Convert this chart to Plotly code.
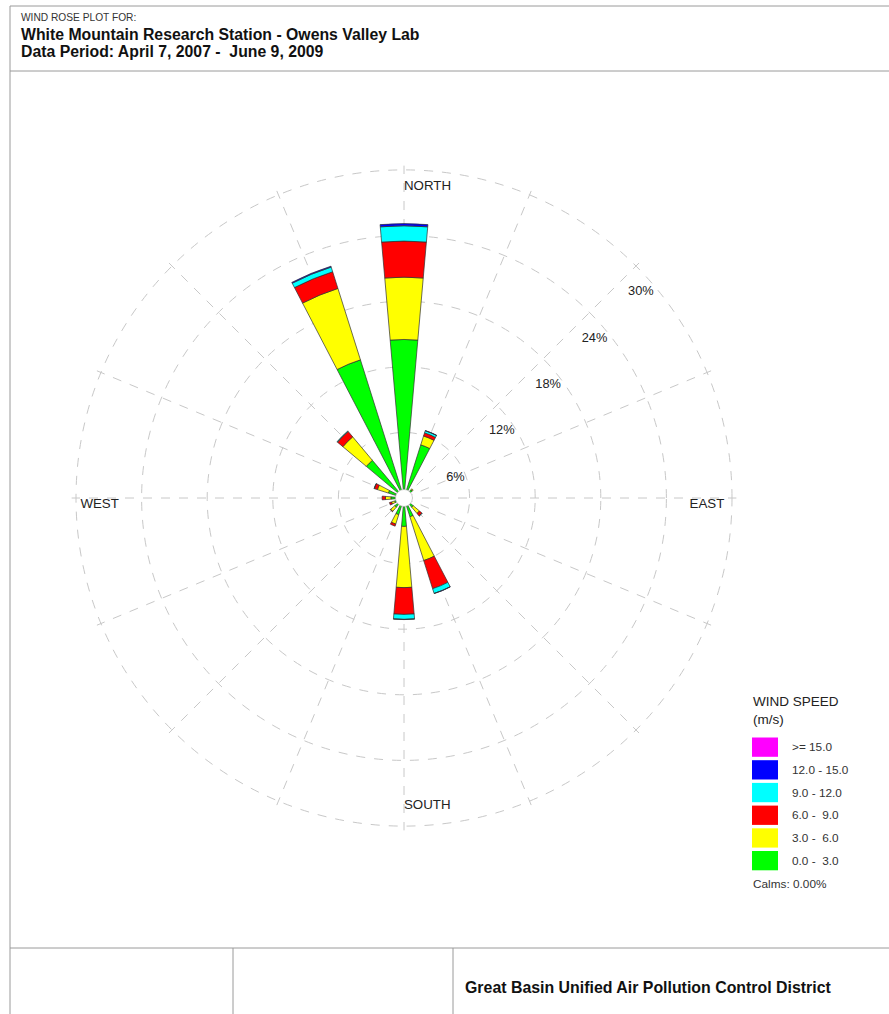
import math
import plotly.graph_objects as go

W, H = 889, 1014

# ---------------- data ----------------
directions = ["N", "NNE", "NE", "ENE", "E", "ESE", "SE", "SSE",
              "S", "SSW", "SW", "WSW", "W", "WNW", "NW", "NNW"]
dir_angles = [0, 22.5, 45, 67.5, 90, 112.5, 135, 157.5,
              180, 202.5, 225, 247.5, 270, 292.5, 315, 337.5]

speed_labels = ["0.0 -\u00a0 3.0", "3.0 -\u00a0 6.0", "6.0 -\u00a0 9.0",
                "9.0 - 12.0", "12.0 - 15.0", ">= 15.0"]
speed_colors = ["#00FF00", "#FFFF00", "#FF0000", "#00FFFF", "#0000FF", "#FF00FF"]

# percent of time, per direction (N, NNE, ... NNW)
freq_0_3   = [14.5, 5.1, 1.0, 0.5, 0.4, 0.5, 1.1, 1.8, 2.6, 1.6, 1.1, 0.9, 1.2, 1.5, 4.5, 13.25]
freq_3_6   = [5.7, 0.85, 0.1, 0.05, 0.05, 0.1, 0.75, 4.2, 5.6, 0.9, 0.5, 0.3, 0.5, 1.05, 2.8, 6.85]
freq_6_9   = [3.3, 0.3, 0.0, 0.0, 0.0, 0.0, 0.3, 2.7, 2.45, 0.2, 0.05, 0.2, 0.3, 0.3, 0.65, 1.6]
freq_9_12  = [1.4, 0.2, 0.0, 0.0, 0.0, 0.0, 0.02, 0.45, 0.45, 0.0, 0.0, 0.0, 0.0, 0.02, 0.05, 0.45]
freq_12_15 = [0.2, 0.02, 0.0, 0.0, 0.0, 0.0, 0.0, 0.02, 0.02, 0.0, 0.0, 0.0, 0.0, 0.0, 0.0, 0.08]
freq_15up  = [0.0] * 16
series = [freq_0_3, freq_3_6, freq_6_9, freq_9_12, freq_12_15, freq_15up]

ring_values = [6, 12, 18, 24, 30]
ring_labels = ["6%", "12%", "18%", "24%", "30%"]

compass_labels = ["NORTH", "EAST", "SOUTH", "WEST"]
compass_angles = [0, 90, 180, 270]

title_small = "WIND ROSE PLOT FOR:"
title_line1 = "White Mountain Research Station - Owens Valley Lab"
title_line2 = "Data Period: April 7, 2007 -\u00a0 June 9, 2009"
legend_title = ["WIND SPEED", "(m/s)"]
calms_text = "Calms: 0.00%"
footer_text = "Great Basin Unified Air Pollution Control District"

# ---------------- layout geometry ----------------
CX, CY = 404, 498          # rose centre (px)
R30 = 328                  # radius of the 30 % ring (px)
RMAX = 30.4
R_TOT = R30 * RMAX / 30.0
PXU = R30 / 30.0           # px per percent

def px(x):
    return x / W

def py(y):
    return 1 - y / H

FONT = "Liberation Sans, Arial, sans-serif"
GRID = "#c8c8c8"

fig = go.Figure()

for vals, lab, col in zip(series, speed_labels, speed_colors):
    fig.add_trace(go.Barpolar(
        r=vals, theta=dir_angles, width=[10] * len(dir_angles),
        name=lab, marker=dict(color=col, line=dict(color="#303030", width=0.7)),
        showlegend=False, hoverinfo="skip"))

# centre white circle
fig.add_trace(go.Scatterpolar(r=[0], theta=[0], mode="markers",
                              marker=dict(color="white", size=17,
                                          line=dict(color="#b0b0b0", width=0.6)),
                              showlegend=False, hoverinfo="skip"))

# ring labels: placed just below where each ring crosses the 45 degree line
lab_r, lab_t = [], []
for v in ring_values:
    x = v * PXU * math.sin(math.radians(45)) + 5
    y = v * PXU * math.cos(math.radians(45)) - 26
    lab_r.append(math.hypot(x, y) / PXU)
    lab_t.append(math.degrees(math.atan2(x, y)))
fig.add_trace(go.Scatterpolar(r=lab_r, theta=lab_t, mode="text", text=ring_labels,
                              textposition="middle center",
                              textfont=dict(family=FONT, size=12.8, color="#222"),
                              showlegend=False, hoverinfo="skip"))

# compass labels (inside the outer ring)
comp_r = [28.45, 29.3, 28.1, 29.6]
comp_pos = ["middle right", "bottom left", "middle right", "bottom right"]
fig.add_trace(go.Scatterpolar(r=comp_r, theta=compass_angles, mode="text",
                              text=compass_labels, textposition=comp_pos,
                              textfont=dict(family=FONT, size=13.3, color="#222"),
                              showlegend=False, hoverinfo="skip"))

fig.update_layout(
    width=W, height=H, margin=dict(l=0, r=0, t=0, b=0),
    paper_bgcolor="white", plot_bgcolor="white", showlegend=False,
    polar=dict(
        domain=dict(x=[px(CX - R_TOT), px(CX + R_TOT)],
                    y=[py(CY + R_TOT), py(CY - R_TOT)]),
        bgcolor="white", barmode="stack",
        radialaxis=dict(range=[0, RMAX], tickvals=ring_values, showticklabels=False,
                        ticks="", showline=False, gridcolor=GRID, griddash="dash",
                        gridwidth=1),
        angularaxis=dict(rotation=90, direction="clockwise", tickmode="linear",
                         tick0=0, dtick=22.5, showticklabels=False, ticks="",
                         showline=False, gridcolor=GRID, griddash="dash", gridwidth=1),
    ),
)

shapes = []
LINE = dict(color="#9a9a9a", width=1)
# page frame
for (x0, y0, x1, y1) in [(10, 6, 889, 6), (10, 71, 889, 71), (10, 6, 10, 1014),
                         (10, 948, 889, 948), (233, 948, 233, 1014), (453, 948, 453, 1014)]:
    shapes.append(dict(type="line", xref="paper", yref="paper",
                       x0=px(x0), y0=py(y0), x1=px(x1), y1=py(y1), line=LINE))

# legend boxes (top: >= 15, bottom: 0-3)
annotations = []
leg_order = list(range(len(speed_labels)))[::-1]
for i, k in enumerate(leg_order):
    top = 737.5 + i * 22.7
    shapes.append(dict(type="rect", xref="paper", yref="paper",
                       x0=px(752), x1=px(778), y0=py(top + 19.3), y1=py(top),
                       fillcolor=speed_colors[k], line=dict(width=0)))
    annotations.append(dict(xref="paper", yref="paper", x=px(790), y=py(top + 9.7),
                            text=speed_labels[k], showarrow=False, xanchor="left",
                            yanchor="middle",
                            font=dict(family=FONT, size=11.8, color="#333")))

for txt, yy in zip(legend_title, [701, 719]):
    annotations.append(dict(xref="paper", yref="paper", x=px(751), y=py(yy), text=txt,
                            showarrow=False, xanchor="left", yanchor="middle",
                            font=dict(family=FONT, size=13.5, color="#222")))
annotations.append(dict(xref="paper", yref="paper", x=px(751), y=py(884), text=calms_text,
                        showarrow=False, xanchor="left", yanchor="middle",
                        font=dict(family=FONT, size=11.8, color="#333")))

# titles
annotations.append(dict(xref="paper", yref="paper", x=px(19), y=py(17.5), text=title_small,
                        showarrow=False, xanchor="left", yanchor="middle",
                        font=dict(family=FONT, size=10.2, color="#333")))
annotations.append(dict(xref="paper", yref="paper", x=px(19), y=py(35), text="<b>" + title_line1 + "</b>",
                        showarrow=False, xanchor="left", yanchor="middle",
                        font=dict(family=FONT, size=15.8, color="#111")))
annotations.append(dict(xref="paper", yref="paper", x=px(19), y=py(51), text="<b>" + title_line2 + "</b>",
                        showarrow=False, xanchor="left", yanchor="middle",
                        font=dict(family=FONT, size=15.8, color="#111")))
annotations.append(dict(xref="paper", yref="paper", x=px(463), y=py(987), text="<b>" + footer_text + "</b>",
                        showarrow=False, xanchor="left", yanchor="middle",
                        font=dict(family=FONT, size=15.9, color="#111")))

fig.update_layout(shapes=shapes, annotations=annotations)

fig.write_html("out.html", config={"displayModeBar": False},
               post_script="document.body.style.margin='0';document.documentElement.style.overflow='hidden';")
